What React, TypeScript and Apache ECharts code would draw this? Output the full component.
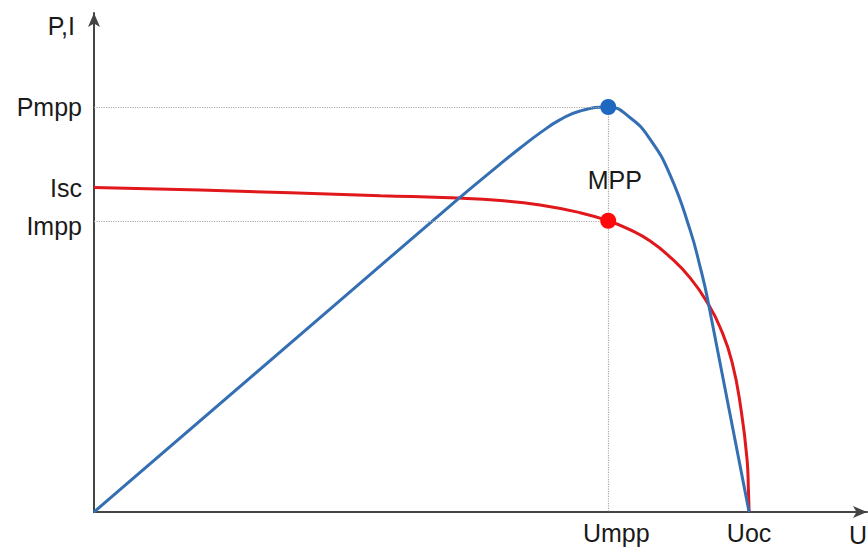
import React, { useEffect, useRef } from "react";
import * as echarts from "echarts";

// Voltage (U) as % of Uoc, power/current as % of Pmpp
const powerU = [0, 38.2, 55.6, 62.0, 65.0, 68.1, 71.1, 74.2, 78.5, 81.8, 84.9, 88.0, 91.0, 92.5, 93.7, 100];
const powerP = [0, 53.1, 77.3, 85.9, 89.8, 93.6, 96.8, 99.0, 100, 97.4, 92.0, 83.0, 69.6, 60.7, 52.3, 0];

const currentU = [0, 16.2, 43.7, 55.6, 62.0, 68.1, 74.2, 78.5, 81.8, 84.9, 87.9, 91.0, 93.7, 95.6, 97.4, 98.8, 99.7, 99.9, 100];
const currentI = [80.1, 79.5, 78.1, 77.5, 76.9, 75.8, 73.9, 71.9, 69.7, 66.9, 63.0, 57.8, 51.5, 45.5, 37.0, 25.0, 12.8, 5.4, 0];

const Umpp = 78.5;
const Uoc = 100;
const Pmpp = 100;
const Isc = 80.1;
const Impp = 71.9;
const mppLabelPos = [79.5, 82.0];

const xTickValues = [Umpp, Uoc];
const xTickLabels = ["Umpp", "Uoc"];
const yTickValues = [Pmpp, Isc, Impp];
const yTickLabels = ["Pmpp", "Isc", "Impp"];

const FONT = "Liberation Sans, Arial, sans-serif";
const TXT = "#1a1a1a";

export default function App() {
  const ref = useRef<HTMLDivElement>(null);
  useEffect(() => {
    if (!ref.current) return;
    const chart = echarts.init(ref.current, null, { renderer: "svg" });
    const txt = { fontSize: 25, fontFamily: FONT, color: TXT };
    chart.setOption({
      animation: false,
      backgroundColor: "#ffffff",
      grid: { left: 94, top: 13, width: 773, height: 499, outerBoundsMode: "none", containLabel: false },
      xAxis: {
        type: "value",
        min: 0,
        max: 118,
        name: "U",
        nameLocation: "end",
        nameGap: -18,
        nameTextStyle: { ...txt, align: "left", verticalAlign: "top", padding: [10, 0, 0, 0] },
        axisLine: {
          show: true,
          symbol: ["none", "arrow"],
          symbolSize: [9, 14],
          lineStyle: { color: "#444444", width: 2 },
        },
        axisTick: { show: false },
        splitLine: { show: false },
        axisLabel: {
          customValues: xTickValues,
          ...txt,
          margin: 8,
          formatter: (v: number) => {
            const i = xTickValues.indexOf(v);
            if (i === 0) return "{a|" + xTickLabels[0] + "}";
            return i >= 0 ? xTickLabels[i] : "";
          },
          rich: { a: { ...txt, padding: [0, 0, 0, 16] } },
        },
      },
      yAxis: {
        type: "value",
        min: 0,
        max: 123.2,
        name: "P,I",
        nameLocation: "end",
        nameGap: -13,
        nameTextStyle: { ...txt, align: "right", verticalAlign: "middle", padding: [0, 19, 0, 0] },
        axisLine: {
          show: true,
          symbol: ["none", "arrow"],
          symbolSize: [9, 14],
          lineStyle: { color: "#444444", width: 2 },
        },
        axisTick: { show: false },
        splitLine: { show: false },
        axisLabel: {
          customValues: yTickValues,
          ...txt,
          margin: 12,
          formatter: (v: number) => {
            const i = yTickValues.indexOf(v);
            if (i === 2) return "{b|" + yTickLabels[2] + "}";
            return i >= 0 ? yTickLabels[i] : "";
          },
          rich: { b: { ...txt, padding: [10, 0, 0, 0] } },
        },
      },
      series: [
        {
          type: "line",
          name: "guides",
          data: [],
          markLine: {
            silent: true,
            symbol: ["none", "none"],
            label: { show: false },
            lineStyle: { color: "#aaaaaa", type: "dotted", width: 1.2 },
            data: [
              [{ coord: [0, Pmpp] }, { coord: [Umpp, Pmpp] }],
              [{ coord: [0, Impp] }, { coord: [Umpp, Impp] }],
              [{ coord: [Umpp, Pmpp] }, { coord: [Umpp, 0] }],
            ],
          },
        },
        {
          type: "line",
          name: "I",
          data: currentU.map((u, i) => [u, currentI[i]]),
          smooth: 0.5,
          symbol: "none",
          lineStyle: { color: "#e0181c", width: 3 },
          z: 3,
        },
        {
          type: "line",
          name: "P",
          data: powerU.map((u, i) => [u, powerP[i]]),
          smooth: 0.5,
          symbol: "none",
          lineStyle: { color: "#336fb2", width: 3 },
          z: 4,
        },
        {
          type: "scatter",
          name: "points",
          data: [
            { value: [Umpp, Pmpp], itemStyle: { color: "#1f68c2", opacity: 1 } },
            { value: [Umpp, Impp], itemStyle: { color: "#ff0a0a", opacity: 1 } },
          ],
          itemStyle: { opacity: 1 },
          symbolSize: 16,
          z: 5,
        },
        {
          type: "scatter",
          name: "mpp",
          data: [mppLabelPos],
          symbolSize: 0,
          itemStyle: { opacity: 1 },
          label: { show: true, position: "inside", formatter: "MPP", ...txt, opacity: 1 },
          z: 6,
        },
      ],
    });
    return () => chart.dispose();
  }, []);
  return (
    <div
      ref={ref}
      style={{ position: "absolute", left: 0, top: 0, width: 868, height: 555, background: "#fff" }}
    />
  );
}
